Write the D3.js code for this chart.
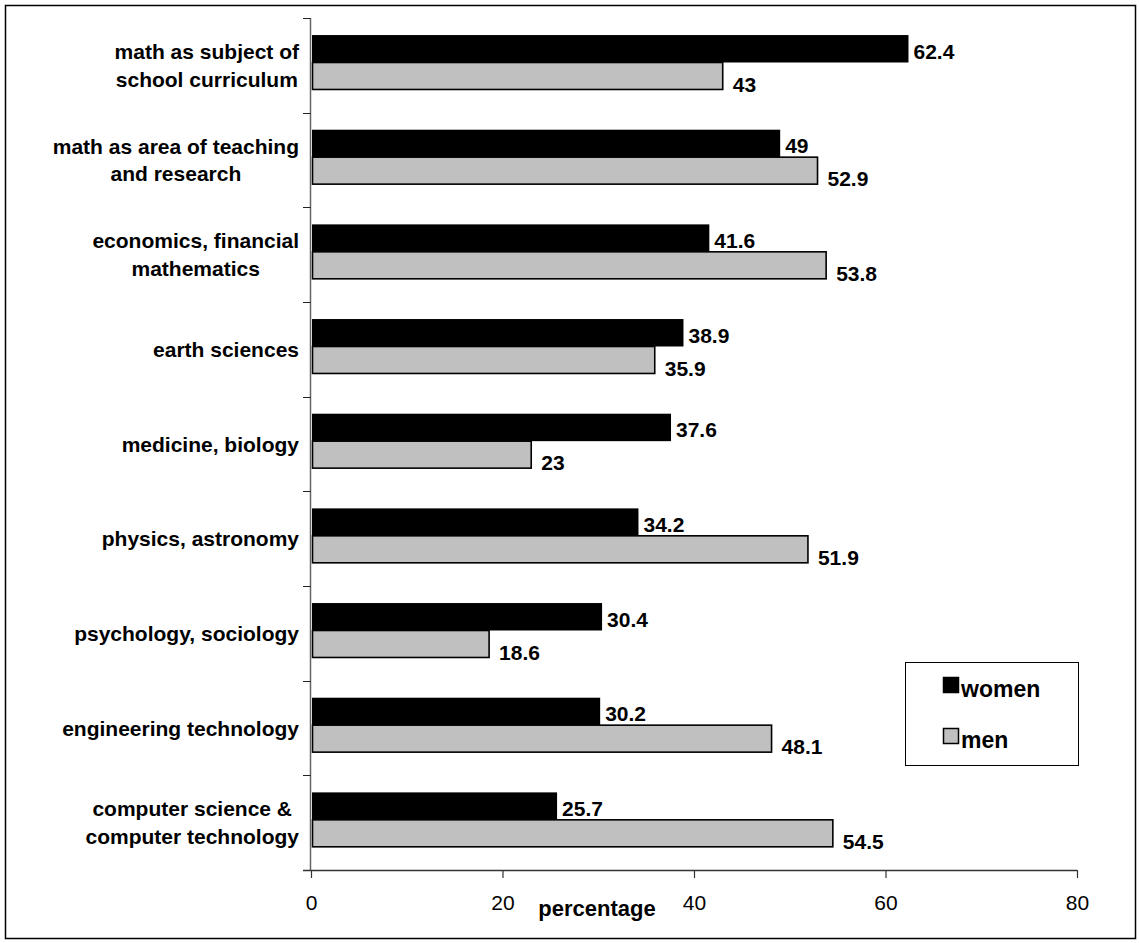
<!DOCTYPE html>
<html>
<head>
<meta charset="utf-8">
<script src="https://cdn.jsdelivr.net/npm/d3@7"></script>
<style>
  html, body { margin: 0; padding: 0; background: #fff; }
  svg { display: block; font-family: "Liberation Sans", Arial, sans-serif; }
</style>
</head>
<body>
<svg id="chart" width="1139" height="943"></svg>
<script>
const categories = [
  ["math as subject of", "school curriculum"],
  ["math as area of teaching", "and research"],
  ["economics, financial", "mathematics"],
  ["earth sciences"],
  ["medicine, biology"],
  ["physics, astronomy"],
  ["psychology, sociology"],
  ["engineering technology"],
  ["computer science &", "computer technology"]
];
const women = [62.4, 49, 41.6, 38.9, 37.6, 34.2, 30.4, 30.2, 25.7];
const men   = [43, 52.9, 53.8, 35.9, 23, 51.9, 18.6, 48.1, 54.5];
const xTicks = [0, 20, 40, 60, 80];
const seriesNames = ["women", "men"];
const axisTitle = "percentage";

(function () {
const svg = d3.select("#chart");

// outer frame
svg.append("rect").attr("x", 5.5).attr("y", 5.5).attr("width", 1130).attr("height", 933)
  .attr("fill", "none").attr("stroke", "#000").attr("stroke-width", 1.5);

const pL = 311, pR = 1077, pT = 18, pB = 870;
const x = d3.scaleLinear().domain([0, 80]).range([pL, pR]);
const idx = categories.map((d, i) => i);
const y = d3.scaleBand().domain(idx).range([pT, pB]).paddingInner(0).paddingOuter(0);
const bw = y.bandwidth();

// bars
const g = svg.append("g");
g.selectAll("rect.w").data(idx).enter().append("rect")
  .attr("x", pL + 1).attr("y", i => y(i) + bw * 0.18)
  .attr("width", i => x(women[i]) - pL - 1).attr("height", bw * 0.29)
  .attr("fill", "#000");
g.selectAll("rect.m").data(idx).enter().append("rect")
  .attr("x", pL + 1.5).attr("y", i => y(i) + bw * 0.47)
  .attr("width", i => x(men[i]) - pL - 1.5).attr("height", bw * 0.285)
  .attr("fill", "#c0c0c0").attr("stroke", "#000").attr("stroke-width", 1.6);

// value labels
g.selectAll("text.w").data(idx).enter().append("text")
  .attr("x", i => x(women[i]) + 5).attr("y", i => y(i) + bw * 0.35)
  .attr("dominant-baseline", "central")
  .attr("font-size", 21).attr("font-weight", "bold").attr("fill", "#000")
  .text(i => women[i]);
g.selectAll("text.m").data(idx).enter().append("text")
  .attr("x", i => x(men[i]) + 10).attr("y", i => y(i) + bw * 0.70)
  .attr("dominant-baseline", "central")
  .attr("font-size", 21).attr("font-weight", "bold").attr("fill", "#000")
  .text(i => men[i]);

// y axis
const yAxis = svg.append("g");
yAxis.append("line").attr("x1", pL - 0.5).attr("x2", pL - 0.5).attr("y1", pT).attr("y2", pB)
  .attr("stroke", "#666").attr("stroke-width", 1.5);
const yTickPos = idx.map(i => y(i)).concat([pB]);
yAxis.selectAll("line.t").data(yTickPos).enter().append("line")
  .attr("x1", pL - 8).attr("x2", pL - 0.5)
  .attr("y1", d => Math.round(d) + 0.5).attr("y2", d => Math.round(d) + 0.5)
  .attr("stroke", "#222").attr("stroke-width", 1);

// category labels
const labelRight = 299;
idx.forEach(i => {
  const lines = categories[i];
  const t = svg.append("text").attr("font-size", 21).attr("font-weight", "bold").attr("fill", "#000")
    .attr("text-anchor", "middle");
  const spans = lines.map(l => t.append("tspan").text(l));
  const widths = spans.map(s => s.node().getComputedTextLength());
  const maxW = d3.max(widths);
  const cx = labelRight - maxW / 2;
  const cy = y(i) + bw / 2;
  const lh = 27.5;
  const n = lines.length;
  spans.forEach((s, k) => {
    s.attr("x", cx).attr("y", cy + (k - (n - 1) / 2) * lh).attr("dy", "0.36em");
  });
});

// x axis
const xAxis = svg.append("g").attr("transform", `translate(0,${pB})`)
  .call(d3.axisBottom(x).tickValues(xTicks).tickSize(8).tickSizeOuter(0).tickPadding(17).tickFormat(d3.format("d")));
xAxis.select(".domain").attr("stroke", "#333").attr("stroke-width", 1.5).attr("d", `M${pL - 8},0.5H${pR}`);
xAxis.selectAll(".tick line").attr("stroke", "#333").attr("stroke-width", 1.2);
xAxis.selectAll(".tick text").attr("font-size", 21).attr("font-family", "Liberation Sans, Arial, sans-serif").attr("fill", "#000");

svg.append("text").attr("x", 597).attr("y", 916).attr("text-anchor", "middle")
  .attr("font-size", 22).attr("font-weight", "bold").attr("fill", "#000").text(axisTitle);

// legend
const lg = svg.append("g");
lg.append("rect").attr("x", 905.5).attr("y", 662.5).attr("width", 173).attr("height", 103)
  .attr("fill", "#fff").attr("stroke", "#000").attr("stroke-width", 1);
const colors = ["#000", "#c0c0c0"];
seriesNames.forEach((n, k) => {
  const yy = 677 + k * 51;
  lg.append("rect").attr("x", 943.5).attr("y", yy + 0.5).attr("width", 15).attr("height", 15)
    .attr("fill", colors[k]).attr("stroke", "#000").attr("stroke-width", 1.5);
  lg.append("text").attr("x", 961).attr("y", yy + 20).attr("font-size", 23).attr("font-weight", "bold")
    .attr("fill", "#000").text(n);
});
})();
</script>
</body>
</html>
